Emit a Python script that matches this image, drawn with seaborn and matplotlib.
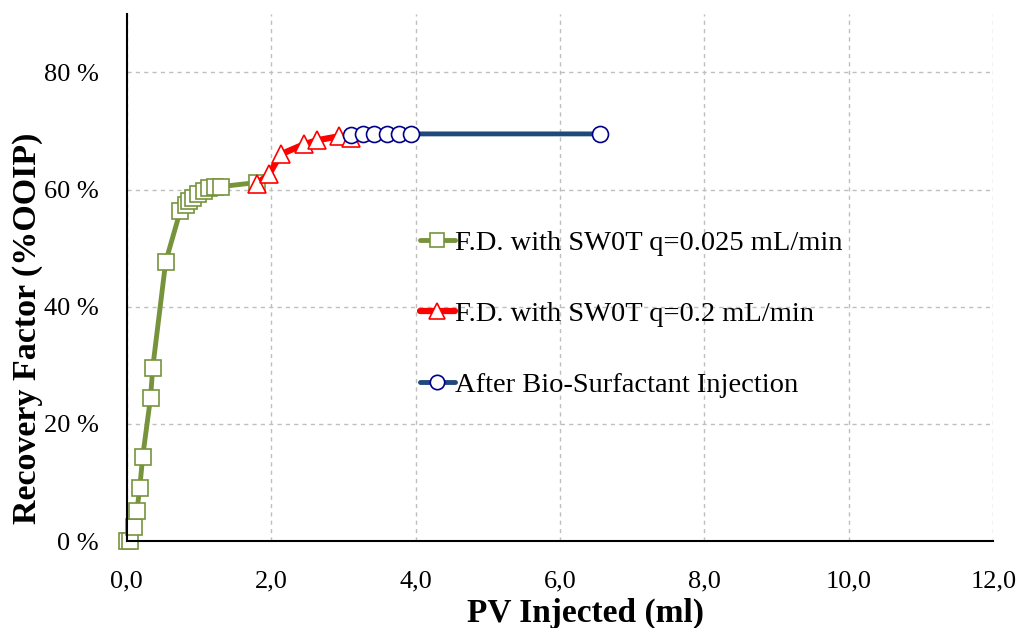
import numpy as np
import pandas as pd
import matplotlib
matplotlib.use("Agg")
import matplotlib.pyplot as plt
from matplotlib.ticker import FuncFormatter, MultipleLocator
import seaborn as sns

sns.set_style("white")
plt.rcParams['font.family'] = ['Liberation Serif', 'DejaVu Serif']
plt.rcParams['text.color'] = 'black'
plt.rcParams['axes.labelcolor'] = 'black'

# Data
pv_low = [0.00, 0.05, 0.10, 0.14, 0.18, 0.22, 0.33, 0.36, 0.54, 0.74, 0.82, 0.86,
          0.92, 0.99, 1.07, 1.14, 1.22, 1.30, 1.80]
rf_low = [0.0, 0.0, 2.4, 5.1, 9.0, 14.3, 24.5, 29.6, 47.7, 56.3, 57.3, 58.0,
          58.6, 59.2, 59.7, 60.2, 60.5, 60.5, 61.2]

pv_high = [1.80, 1.97, 2.13, 2.45, 2.63, 2.94, 3.11]
rf_high = [61.0, 62.6, 66.0, 67.7, 68.4, 69.1, 68.8]

pv_bio = [3.11, 3.27, 3.43, 3.60, 3.77, 3.93, 6.55]
rf_bio = [69.3, 69.5, 69.5, 69.5, 69.5, 69.5, 69.5]

labels = ["F.D. with SW0T q=0.025 mL/min",
          "F.D. with SW0T q=0.2 mL/min",
          "After Bio-Surfactant Injection"]

fig = plt.figure(figsize=(10.22, 6.28), dpi=100)
ax = fig.add_axes([0.124, 0.1385, 0.848, 0.8395])

sns.lineplot(x=pv_low, y=rf_low, ax=ax, sort=False, color="#77933C", lw=3.5,
             marker="s", markersize=11, markerfacecolor="white",
             markeredgecolor="#77933C", markeredgewidth=1.2, label=labels[0],
             clip_on=False)
sns.lineplot(x=pv_high, y=rf_high, ax=ax, sort=False, color="#FF0000", lw=4.5,
             marker="^", markersize=13, markerfacecolor="white",
             markeredgecolor="#FF0000", markeredgewidth=1.2, label=labels[1],
             clip_on=False)
sns.lineplot(x=pv_bio, y=rf_bio, ax=ax, sort=False, color="#1F497D", lw=3.5,
             marker="o", markersize=11.5, markerfacecolor="white",
             markeredgecolor="#00008B", markeredgewidth=1.2, label=labels[2],
             clip_on=False)

ax.set_xlim(0, 12)
ax.set_ylim(0, 90)
ax.xaxis.set_major_locator(MultipleLocator(2))
ax.set_yticks([0, 20, 40, 60, 80])
ax.xaxis.set_major_formatter(FuncFormatter(lambda v, p: f"{v:.1f}".replace(".", ",")))
ax.yaxis.set_major_formatter(FuncFormatter(lambda v, p: f"{int(v)} %"))
ax.tick_params(labelsize=19, colors="black", direction="out", length=5, width=1)
ax.tick_params(axis="x", pad=16)
ax.tick_params(axis="y", pad=15)

ax.grid(True, color="#BFBFBF", linestyle=(0, (3, 3)), lw=1)
for s in ["top", "right"]:
    ax.spines[s].set_visible(False)
for s in ["left", "bottom"]:
    ax.spines[s].set_color("black")
    ax.spines[s].set_linewidth(1.5)

ax.set_xlabel("PV Injected (ml)", fontsize=24, fontweight="bold", color="black")
ax.xaxis.set_label_coords(0.529, -0.108)
ax.set_ylabel("Recovery Factor (%OOIP)", fontsize=24.5, fontweight="bold", color="black")
ax.yaxis.set_label_coords(-0.097, 0.404)

leg = ax.legend(loc="center left", bbox_to_anchor=(0.338, 0.430), frameon=False,
                fontsize=20.5, handlelength=1.25, handletextpad=0.0, labelspacing=1.58,
                markerscale=0.9, borderpad=0, borderaxespad=0)
for t in leg.get_texts():
    t.set_color("black")

fig.savefig("out.png", dpi=100)
